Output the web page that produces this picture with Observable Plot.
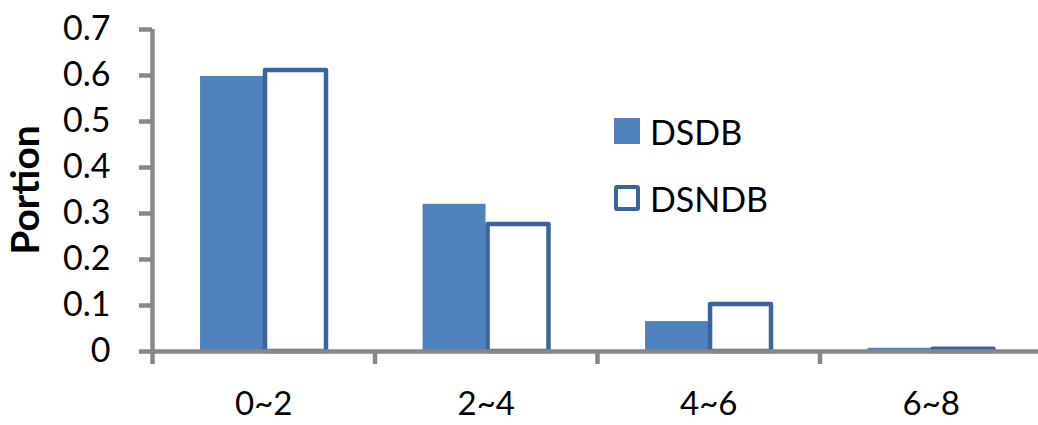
<!DOCTYPE html>
<html>
<head>
<meta charset="utf-8">
<script src="https://cdn.jsdelivr.net/npm/d3@7"></script>
<script src="https://cdn.jsdelivr.net/npm/@observablehq/plot@0.6"></script>
<style>
  body { margin: 0; background: #fff; }
  #wrap { position: relative; width: 1038px; height: 425px; font-family: Lato, sans-serif; overflow: hidden; }
  #ylab { position: absolute; left: -76px; top: 170px; width: 200px; height: 40px; line-height: 40px;
          text-align: center; font-size: 39px; font-weight: bold; transform: rotate(-90deg); }
  .leg { position: absolute; left: 614px; height: 40px; display: flex; align-items: center; font-size: 34px; }
  .sw { width: 26px; height: 26px; box-sizing: border-box; margin-right: 10px; }
</style>
</head>
<body>
<div id="wrap">
  <div id="chart"></div>
  <div id="ylab">Portion</div>
  <div class="leg" style="top:111px"><div class="sw" style="background:#4f81bd"></div><span>DSDB</span></div>
  <div class="leg" style="top:178px"><div class="sw" style="background:#fff;border:4px solid #3b6498;border-radius:3px"></div><span>DSNDB</span></div>
</div>
<script>
const categories = ["0~2", "2~4", "4~6", "6~8"];
const dsdb = [0.598, 0.320, 0.065, 0.007];
const dsndb = [0.611, 0.276, 0.102, 0.005];
const yTicks = [0, 0.1, 0.2, 0.3, 0.4, 0.5, 0.6, 0.7];

const rows = categories.map((c, i) => ({i, cat: c, dsdb: dsdb[i], dsndb: dsndb[i]}));
const gray = "#878787";

const chart = Plot.plot({
  width: 1038,
  height: 425,
  marginLeft: 152,
  marginTop: 29,
  marginBottom: 74,
  marginRight: 0,
  style: {fontFamily: "Lato, sans-serif", fontSize: "34px", color: "#000", background: "#fff"},
  x: {domain: [0, 4], range: [152, 1042]},
  y: {domain: [0, 0.7]},
  marks: [
    Plot.rectY(rows, {x1: d => d.i + 0.216, x2: d => d.i + 0.499, y: "dsdb", fill: "#4f81bd"}),
    Plot.rectY(rows, {x1: d => d.i + 0.508, x2: d => d.i + 0.782, y: "dsndb", fill: "#fff",
      stroke: "#3b6498", strokeWidth: 4.5, strokeLinejoin: "round"}),
    Plot.ruleX([0], {y1: 0, y2: 0.7, stroke: gray, strokeWidth: 4.5}),
    Plot.ruleY([0], {stroke: gray, strokeWidth: 4.5}),
    Plot.axisY({ticks: yTicks, tickSize: 13, tickPadding: 29, stroke: gray, strokeWidth: 4.5,
      tickFormat: d => d === 0 ? "0" : d.toFixed(1), label: null}),
    Plot.axisX({ticks: [0, 1, 2, 3, 4], tickSize: 13, stroke: gray, strokeWidth: 4.5, tickFormat: () => "", label: null}),
    Plot.axisX({ticks: categories.map((c, i) => i + 0.5), tickSize: 0, tickPadding: 40, fontSize: 33,
      tickFormat: d => categories[Math.floor(d)], label: null})
  ]
});
document.getElementById("chart").appendChild(chart);
</script>
</body>
</html>
